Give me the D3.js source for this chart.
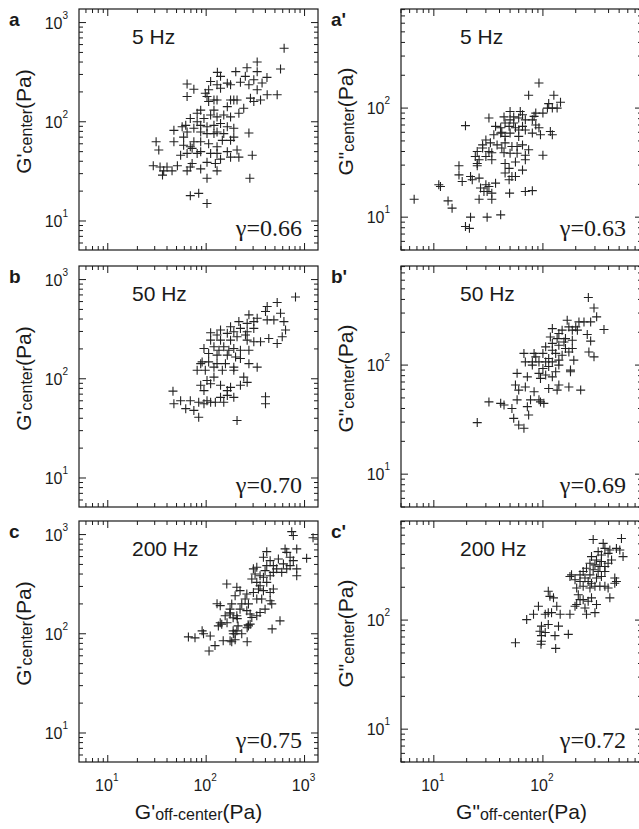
<!DOCTYPE html>
<html>
<head>
<meta charset="utf-8">
<script src="https://cdn.jsdelivr.net/npm/d3@7.9.0/dist/d3.min.js"></script>
<style>
  body { margin: 0; background: #fff; }
  svg { display: block; }
  .sans { font-family: "Liberation Sans", Arial, Helvetica, sans-serif; }
  .serif { font-family: "Liberation Serif", "Times New Roman", serif; }
</style>
</head>
<body>
<svg id="chart" width="639" height="829"></svg>
<script>
// ---- data: [off-center, center] in Pa ----

// G' (storage modulus), 5 Hz
const gp5 = [[620,550],[330,400],[260,350],[570,340],[200,320],[130,315],[330,320],[415,280],[305,265],[223,250],
  [164,245],[177,236],[129,236],[111,255],[64,240],[75,213],[64,180],[106,210],[98,194],[140,218],
  [272,236],[330,210],[527,187],[417,187],[282,173],[357,166],[305,160],[177,166],[129,166],[102,180],
  [120,166],[106,160],[191,166],[206,166],[241,137],[215,122],[177,112],[151,117],[129,112],[120,131],
  [164,142],[88,131],[81,122],[69,108],[95,108],[111,117],[140,96],[102,89],[88,92],[81,100],
  [120,92],[164,89],[191,86],[75,86],[62,92],[57,89],[47,82],[64,79],[129,79],[102,76],
  [88,79],[120,76],[151,76],[191,70],[272,77],[177,65],[146,65],[129,56],[106,60],[88,63],
  [75,63],[59,70],[47,63],[59,58],[69,56],[88,50],[72,54],[81,48],[64,48],[55,46],
  [111,48],[129,48],[164,50],[140,42],[124,38],[129,32],[102,39],[88,33.5],[72,38],[69,35],
  [64,32],[51,36],[40,35],[37,32],[34,35],[29,36],[36,29],[31,63],[33,52],[294,46],
  [278,27],[102,27],[69,18],[84,19],[102,15],[206,52],[215,44],[177,44],[45,32],[250,287],
  [370,246],[140,287]];

// G' 50 Hz
const gp50 = [[809,667],[527,588],[417,535],[570,458],[401,476],[272,441],[330,408],[261,362],[305,377],[417,392],
  [488,392],[617,377],[641,310],[593,265],[433,255],[527,227],[357,236],[305,322],[223,322],[215,377],
  [177,335],[191,298],[164,287],[206,265],[261,298],[111,291],[177,245],[140,245],[120,210],[151,210],
  [191,202],[223,194],[272,194],[305,236],[261,245],[95,202],[106,180],[129,173],[164,173],[199,166],
  [223,160],[272,142],[330,131],[129,142],[106,148],[91,148],[81,122],[98,122],[120,131],[146,122],
  [191,122],[241,104],[261,92],[102,96],[120,104],[140,86],[177,82],[223,86],[191,65],[164,76],
  [88,86],[95,76],[111,89],[84,58],[102,60],[124,58],[164,68],[140,65],[46,75],[55,60],
  [69,60],[47,56],[62,50],[75,48],[84,41],[95,56],[111,58],[206,38],[401,66],[401,56],
  [151,58],[191,131],[157,142],[135,194],[170,194],[251,276],[88,142],[111,245],[129,276],[140,310]];

// G' 200 Hz
const gp200 = [[741,1070],[769,977],[634,717],[659,662],[833,717],[1050,576],[413,673],[382,590],[447,546],[542,568],
  [713,590],[769,546],[610,506],[713,486],[659,451],[833,451],[833,385],[586,416],[521,451],[482,486],
  [413,486],[397,433],[327,468],[302,451],[314,401],[353,385],[382,371],[447,385],[482,416],[413,330],
  [353,305],[327,330],[291,356],[340,283],[382,272],[447,261],[482,283],[302,261],[259,252],[221,272],
  [205,294],[162,318],[197,242],[249,224],[230,200],[269,200],[327,224],[367,224],[447,215],[464,200],
  [397,177],[353,164],[327,152],[280,158],[259,171],[221,177],[182,200],[175,177],[139,192],[156,152],
  [175,158],[205,152],[291,146],[144,125],[133,120],[269,120],[280,125],[563,135],[468,112],[205,107],
  [189,100],[230,100],[94,100],[182,83],[66,93],[77,91],[91,107],[110,95],[107,67],[123,76],
  [149,85],[175,85],[197,87],[188,107],[197,100],[211,120],[267,123],[261,115],[261,83],[175,163],
  [188,145],[207,142],[163,129],[129,201],[139,129],[1220,930]];

// G'' (loss modulus), 5 Hz
const gpp5 = [[92,170],[74,131],[126,131],[145,113],[113,110],[110,100],[135,100],[100,90],[86,90],[50,93],
  [62,93],[54,83],[44,83],[50,78],[60,81],[69,78],[83,84],[32,81],[19.5,69],[41,66],
  [49,68],[56,66],[65,68],[86,70],[92,66],[95,57],[117,61],[122,57],[80,59],[69,63],
  [60,63],[50,59],[42,60],[35.5,57],[30,51],[28,46],[33,48],[38,46],[45,48],[42,43],
  [52,44.5],[58,44.5],[65,46],[74,41.5],[69,37],[58,38.6],[50,38.6],[44,39],[34,39],[32,40],
  [25,40],[24,36],[26,33.6],[25,31],[30,36],[34,33.6],[45,31],[56,32],[65,27],[49,28],
  [45,25.4],[52,23.6],[49,22],[56,23.6],[25,29.6],[17,29.6],[21.7,23.6],[26,22.8],[30,19.8],[18.2,21.2],
  [22.5,22],[36.8,20.5],[32,19.1],[26.8,18.5],[28.8,17.2],[34,16.6],[30.8,17.2],[34,14.6],[26,14.6],[49.5,16.6],
  [69,17.2],[80,17.5],[100,37],[80,78],[122,100],[17,24.4],[11.1,19.8],[11.5,19.1],[13.5,14.1],[14.7,12.1],
  [6.6,14.6],[21.7,10],[30.8,10],[41,10.5],[19.5,8.2],[21.2,7.9],[41,59],[45,55],[60,55],[69,33.6],
  [28,43],[36.8,68],[45,73],[54,73],[65,87]];

// G'' 50 Hz
const gpp50 = [[261,416],[294,334],[311,277],[238,249],[363,212],[274,249],[255,191],[274,166],[264,132],[294,119],
  [200,224],[173,224],[150,209],[186,209],[207,209],[140,195],[122,216],[117,181],[135,175],[161,175],
  [186,169],[186,142],[161,142],[140,152],[122,158],[106,147],[122,137],[131,128],[150,123],[173,132],
  [192,111],[140,111],[113,115],[100,128],[86,119],[80,107],[92,107],[106,107],[122,107],[140,100],
  [113,97],[100,93],[80,100],[69,107],[67,128],[83,128],[179,90],[131,87],[122,78],[106,81],
  [92,84],[95,75.5],[113,61],[140,65.6],[135,59],[173,63],[222,59],[179,87],[58,84],[72,78],
  [56,65.6],[60,59],[69,63],[83,57],[58,48],[77,48],[92,48],[102,44.6],[32,46],[41,44.6],
  [44,43],[52,40],[72,41.6],[54,32.5],[60,28.2],[67,26.4],[74,34.9],[25,29.7],[95,46],[156,163],
  [167,258],[214,249]];

// G'' 200 Hz
const gpp200 = [[289,548],[525,560],[357,505],[370,454],[411,439],[472,454],[507,439],[543,382],[396,409],[344,395],
  [321,424],[279,382],[310,356],[344,344],[426,356],[396,332],[370,310],[333,310],[300,321],[270,332],
  [251,299],[289,289],[321,279],[370,279],[344,251],[310,243],[270,260],[234,279],[219,260],[243,243],
  [260,226],[279,218],[300,204],[270,197],[234,204],[219,226],[197,234],[177,251],[183,260],[204,197],
  [211,171],[219,154],[234,154],[260,149],[279,160],[333,204],[370,204],[396,197],[456,243],[472,226],
  [456,218],[411,160],[310,139],[300,117],[251,113],[243,129],[204,139],[197,134],[177,113],[144,113],
  [134,134],[120,117],[112,184],[116,165],[125,160],[91,134],[82,113],[71,101],[105,113],[112,117],
  [139,88],[112,91],[97,88],[94,79],[97,72],[105,77],[129,72],[171,74],[97,64],[56,62],
  [96,60],[131,55]];

const panelLetters = [["a", "a'"], ["b", "b'"], ["c", "c'"]];
const freqLabels = ["5 Hz", "50 Hz", "200 Hz"];
const gammaLabels = [["0.66", "0.63"], ["0.70", "0.69"], ["0.75", "0.72"]];
const seriesByRow = [[gp5, gpp5], [gp50, gpp50], [gp200, gpp200]];
const modulusMark = ["'", '"'];

// ---- layout ----
const svg = d3.select('#chart');
const ink = '#1a1a1a';

const cols = [
  { left: 79, right: 318, domain: [5.1, 1370] },
  { left: 401, right: 642, domain: [5, 810] }
];
const rowTops = [9, 266, 521];
const panelH = 241;

const isDecade = t => Math.abs(Math.log10(t) - Math.round(Math.log10(t))) < 1e-9;
const plus = 'M-4.5,0H4.5M0,-4.5V4.5';

function powLabel(sel, exp, supSize, supDy) {
  sel.append('tspan').text('10');
  sel.append('tspan').attr('font-size', supSize).attr('dy', supDy).text(exp);
}

rowTops.forEach((top, r) => {
  const bottom = top + panelH;
  cols.forEach((c, ci) => {
    const x = d3.scaleLog().domain(c.domain).range([c.left, c.right]);
    const y = d3.scaleLog().domain(c.domain).range([bottom, top]);
    const g = svg.append('g');

    // inward ticks on all four sides
    const ticks = g.append('g').attr('stroke', ink).attr('stroke-width', 1);
    x.ticks().forEach(t => {
      const len = isDecade(t) ? 7 : 4;
      const px = x(t);
      ticks.append('line').attr('x1', px).attr('x2', px).attr('y1', bottom).attr('y2', bottom - len);
      ticks.append('line').attr('x1', px).attr('x2', px).attr('y1', top).attr('y2', top + len);
    });
    y.ticks().forEach(t => {
      const len = isDecade(t) ? 7 : 4;
      const py = y(t);
      ticks.append('line').attr('y1', py).attr('y2', py).attr('x1', c.left).attr('x2', c.left + len);
      ticks.append('line').attr('y1', py).attr('y2', py).attr('x1', c.right).attr('x2', c.right - len);
    });

    g.append('rect')
      .attr('x', c.left).attr('y', top)
      .attr('width', c.right - c.left).attr('height', panelH)
      .attr('fill', 'none').attr('stroke', ink).attr('stroke-width', 1.2);

    // y tick labels
    y.ticks().filter(isDecade).forEach(t => {
      g.append('text').attr('class', 'sans')
        .attr('x', c.left - 11).attr('y', y(t) + 6)
        .attr('text-anchor', 'end')
        .attr('font-size', 16).attr('fill', ink)
        .call(powLabel, Math.round(Math.log10(t)), 10, -10);
    });

    // x tick labels, bottom row only
    if (r === rowTops.length - 1) {
      x.ticks().filter(isDecade).forEach(t => {
        g.append('text').attr('class', 'sans')
          .attr('x', x(t) - 1).attr('y', bottom + 29)
          .attr('text-anchor', 'middle')
          .attr('font-size', 16).attr('fill', ink)
          .call(powLabel, Math.round(Math.log10(t)), 10, -10);
      });
      g.append('text').attr('class', 'sans')
        .attr('x', (c.left + c.right) / 2).attr('y', bottom + 57)
        .attr('text-anchor', 'middle')
        .attr('font-size', 21).attr('fill', ink)
        .call(t => {
          t.append('tspan').text('G' + modulusMark[ci]);
          t.append('tspan').attr('font-size', 16).attr('dy', 1).text('off-center');
          t.append('tspan').attr('dy', -1).text('(Pa)');
        });
    }

    // y axis title
    g.append('text').attr('class', 'sans')
      .attr('transform', `translate(${c.left - 48},${(top + bottom) / 2 - 8}) rotate(-90)`)
      .attr('text-anchor', 'middle')
      .attr('font-size', 21).attr('fill', ink)
      .call(t => {
        t.append('tspan').text('G' + modulusMark[ci]);
        t.append('tspan').attr('font-size', 16).attr('dy', 1).text('center');
        t.append('tspan').attr('dy', -1).text('(Pa)');
      });

    // panel letter
    g.append('text').attr('class', 'sans')
      .attr('x', c.left - 70).attr('y', top + 17)
      .attr('font-size', 19).attr('font-weight', 'bold').attr('fill', ink)
      .text(panelLetters[r][ci]);

    // frequency
    g.append('text').attr('class', 'sans')
      .attr('x', c.left + (ci === 0 ? 53 : 59)).attr('y', top + 35)
      .attr('font-size', 21).attr('fill', ink)
      .text(freqLabels[r]);

    // exponent gamma
    g.append('text').attr('class', 'serif')
      .attr('x', c.right - 16).attr('y', bottom - 14)
      .attr('text-anchor', 'end')
      .attr('font-size', 24).attr('fill', ink)
      .text('\u03b3=' + gammaLabels[r][ci]);

    // scatter
    g.append('g')
      .selectAll('path')
      .data(seriesByRow[r][ci])
      .join('path')
      .attr('d', plus)
      .attr('transform', d => `translate(${x(d[0])},${y(d[1])})`)
      .attr('fill', 'none')
      .attr('stroke', '#222')
      .attr('stroke-width', 1.1);
  });
});
</script>
</body>
</html>
